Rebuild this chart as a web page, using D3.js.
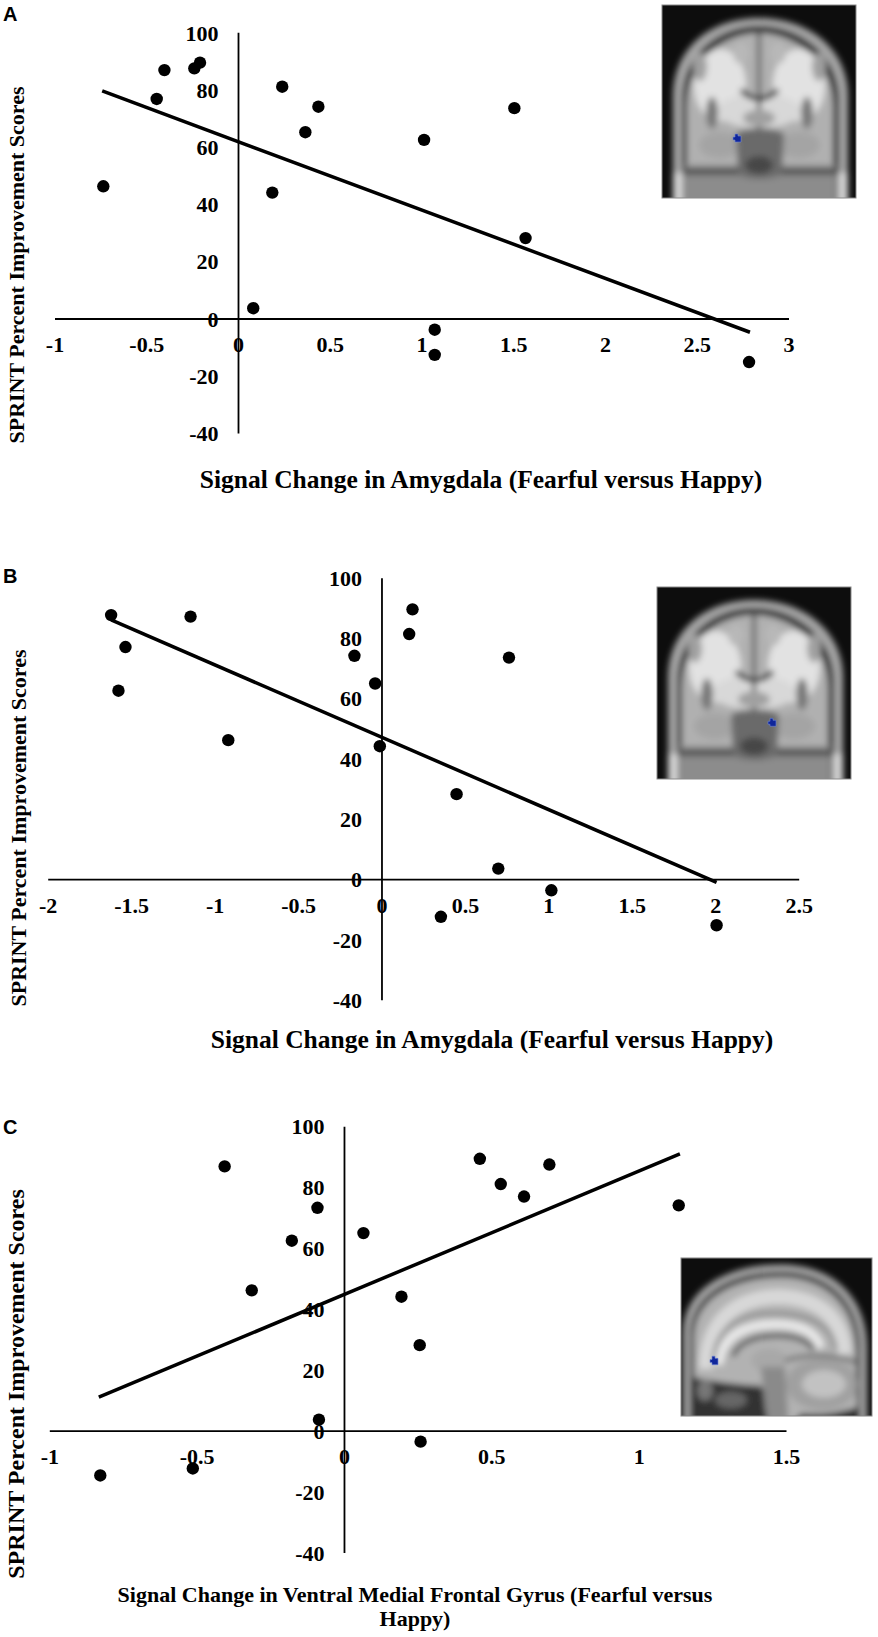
<!DOCTYPE html>
<html>
<head>
<meta charset="utf-8">
<script src="https://cdn.jsdelivr.net/npm/d3@7"></script>
<style>
  body { margin: 0; background: #fff; }
  svg text { font-family: "Liberation Serif", "Times New Roman", serif; font-weight: bold; fill: #000; }
  svg text.letter { font-family: "Liberation Sans", Arial, sans-serif; }
</style>
</head>
<body>
<div id="figure"></div>
<script>
// shared y values / ticks
var ticksY = [-40, -20, 0, 20, 40, 60, 80, 100];
var yTitle = "SPRINT Percent Improvement Scores";

// panel A : amygdala, left
var ticksAx = [-1, -0.5, 0, 0.5, 1, 1.5, 2, 2.5, 3];
var signalA = [-0.734, -0.443, -0.401, -0.238, -0.207, 0.241, 0.438, 0.367, 0.187, 0.083, 1.014, 1.506, 1.567, 1.072, 1.072, 2.785];
var sprintA = [46.2, 76.7, 86.8, 87.4, 89.4, 81.0, 74.0, 65.1, 44.0, 3.6, 62.4, 73.5, 28.1, -3.9, -12.7, -15.2];
var trendAx = [-0.74, 2.79];
var trendAy = [79.5, -4.8];
var titleA = ["Signal Change in Amygdala (Fearful versus Happy)"];

// panel B : amygdala, right
var ticksBx = [-2, -1.5, -1, -0.5, 0, 0.5, 1, 1.5, 2, 2.5];
var signalB = [-1.62, -1.534, -1.576, -1.144, -0.918, -0.162, -0.038, -0.01, 0.186, 0.166, 0.764, 0.45, 0.70, 1.018, 0.356, 2.008];
var sprintB = [87.6, 77.0, 62.5, 87.1, 46.1, 74.1, 64.9, 44.1, 89.5, 81.3, 73.5, 28.2, 3.5, -3.7, -12.5, -15.3];
var trendBx = [-1.62, 2.008];
var trendBy = [86.0, -1.1];
var titleB = ["Signal Change in Amygdala (Fearful versus Happy)"];

// panel C : ventral medial frontal gyrus
var ticksCx = [-1, -0.5, 0, 0.5, 1, 1.5];
var signalC = [-0.405, -0.090, -0.177, -0.313, 0.066, 0.195, 0.257, -0.085, 0.260, -0.827, -0.513, 0.461, 0.532, 0.611, 0.697, 1.136];
var sprintC = [86.8, 73.2, 62.4, 46.1, 64.9, 44.0, 28.1, 3.6, -3.6, -14.7, -12.4, 89.3, 81.0, 76.9, 87.4, 74.0];
var trendCx = [-0.832, 1.14];
var trendCy = [11.0, 90.9];
var titleC = ["Signal Change in Ventral Medial Frontal Gyrus (Fearful versus", "Happy)"];

var svg = d3.select("#figure")
            .append("svg")
            .attr("width", 878)
            .attr("height", 1637)
            .style("background", "#fff");

var defs = svg.append("defs");
defs.append("filter")
    .attr("id", "soft")
    .attr("x", "-10%").attr("y", "-10%")
    .attr("width", "120%").attr("height", "120%")
    .append("feGaussianBlur")
    .attr("stdDeviation", 3);

function fmt(d) { return String(d); }

function drawPanel(p) {
    var g = svg.append("g");

    var x = d3.scaleLinear().domain(d3.extent(p.xTicks)).range(p.xRange);
    var y = d3.scaleLinear().domain(d3.extent(ticksY)).range(p.yRange);

    // horizontal axis crosses at y = 0
    var xAxis = g.append("g")
        .attr("transform", "translate(0," + y(0) + ")")
        .call(d3.axisBottom(x).tickValues(p.xTicks).tickSize(0).tickFormat(fmt))
        .attr("font-size", null)
        .attr("font-family", null);
    xAxis.select(".domain").attr("stroke", "#000").attr("stroke-width", 1.8);
    xAxis.selectAll("text")
        .attr("y", p.xLabelOffset)
        .attr("dy", "0.35em")
        .style("font-size", "22px");

    // vertical axis crosses at x = 0
    var yAxis = g.append("g")
        .attr("transform", "translate(" + x(0) + ",0)")
        .call(d3.axisLeft(y).tickValues(ticksY).tickSize(0).tickFormat(fmt))
        .attr("font-size", null)
        .attr("font-family", null);
    yAxis.select(".domain").attr("stroke", "#000").attr("stroke-width", 1.8);
    yAxis.selectAll("text")
        .attr("x", -19.5)
        .attr("dy", "0.35em")
        .style("font-size", "22px");

    // fitted line
    g.append("path")
        .datum(d3.zip(p.trendX, p.trendY))
        .attr("d", d3.line().x(function(d) { return x(d[0]); }).y(function(d) { return y(d[1]); }))
        .attr("stroke", "#000")
        .attr("stroke-width", 3.5)
        .attr("fill", "none");

    g.selectAll("circle")
        .data(d3.zip(p.xs, p.ys))
        .join("circle")
        .attr("cx", function(d) { return x(d[0]); })
        .attr("cy", function(d) { return y(d[1]); })
        .attr("r", 6.2)
        .attr("fill", "#000");

    // axis titles
    g.append("text")
        .attr("transform", "translate(" + p.yTitle[0] + "," + p.yTitle[1] + ") rotate(-90)")
        .attr("text-anchor", "middle")
        .style("font-size", p.yTitle[2] + "px")
        .text(yTitle);

    g.selectAll(".xtitle")
        .data(p.title)
        .join("text")
        .attr("class", "xtitle")
        .attr("x", p.xTitle[0])
        .attr("y", function(d, i) { return p.xTitle[1] + i * p.xTitle[3]; })
        .attr("text-anchor", "middle")
        .style("font-size", p.xTitle[2] + "px")
        .text(function(d) { return d; });

    g.append("text")
        .attr("class", "letter")
        .attr("x", p.letter[1])
        .attr("y", p.letter[2])
        .style("font-size", "20px")
        .text(p.letter[0]);
}

function blueSpot(g, pos) {
    g.append("path")
        .attr("transform", "translate(" + pos[0] + "," + pos[1] + ")")
        .attr("d", "M-4,-1 L-2,-1 L-2,-4 L1,-4 L1,-2 L4,-2 L4,4 L-2,4 L-2,2 L-4,2 Z")
        .attr("fill", "#10269a")
        .attr("stroke", "#6f86d8")
        .attr("stroke-width", 0.6);
}

function frame(box, w, h, id) {
    var g = svg.append("g")
        .attr("transform", "translate(" + box[0] + "," + box[1] + ") scale(" + box[2] / w + "," + box[3] / h + ")");
    defs.append("clipPath").attr("id", id)
        .append("rect").attr("width", w).attr("height", h);
    var c = g.append("g").attr("clip-path", "url(#" + id + ")");
    c.append("rect").attr("width", w).attr("height", h).attr("fill", "#0d0d0d");
    var a = c.append("g").attr("filter", "url(#soft)");
    return { g: g, a: a, w: w, h: h };
}

function shape(a, tag, attrs) {
    var el = a.append(tag);
    for (var k in attrs) el.attr(k, attrs[k]);
    return el;
}

// coronal slice (panels A and B)
function drawCoronal(box, spot, id) {
    var f = frame(box, 194, 193, id), a = f.a;
    shape(a, "path", { d: "M11,210 V92 C11,40 52,13 97,13 C142,13 186,40 186,92 V210 Z", fill: "#a6a6a6" });
    shape(a, "path", { d: "M20,210 V96 C20,48 58,21 97,21 C136,21 177,48 177,96 V210 Z", fill: "#2c2c2c" });
    shape(a, "path", { d: "M25,175 V100 C25,55 62,28 97,28 C132,28 171,55 171,100 V175 Z", fill: "#b0b0b0" });
    shape(a, "rect", { x: 22, y: 160, width: 152, height: 50, fill: "#8c8c8c" });
    shape(a, "rect", { x: 22, y: 163, width: 152, height: 7, fill: "#555" });
    shape(a, "rect", { x: 11, y: 168, width: 10, height: 40, fill: "#d4d4d4" });
    shape(a, "rect", { x: 176, y: 168, width: 10, height: 40, fill: "#d4d4d4" });
    shape(a, "ellipse", { cx: 58, cy: 80, rx: 26, ry: 36, fill: "#e2e2e2" });
    shape(a, "ellipse", { cx: 137, cy: 80, rx: 26, ry: 36, fill: "#e2e2e2" });
    shape(a, "ellipse", { cx: 97, cy: 106, rx: 42, ry: 17, fill: "#d8d8d8" });
    shape(a, "ellipse", { cx: 38, cy: 62, rx: 7, ry: 14, fill: "#a0a0a0" });
    shape(a, "ellipse", { cx: 157, cy: 62, rx: 7, ry: 14, fill: "#a0a0a0" });
    shape(a, "ellipse", { cx: 79, cy: 48, rx: 8, ry: 11, fill: "#b8b8b8" });
    shape(a, "ellipse", { cx: 116, cy: 48, rx: 8, ry: 11, fill: "#b8b8b8" });
    shape(a, "rect", { x: 95, y: 28, width: 4, height: 98, fill: "#5a5a5a" });
    shape(a, "path", { d: "M79,85 Q97,102 116,85", stroke: "#333", "stroke-width": 5, fill: "none" });
    shape(a, "ellipse", { cx: 50, cy: 108, rx: 6, ry: 16, fill: "#777" });
    shape(a, "ellipse", { cx: 145, cy: 108, rx: 6, ry: 16, fill: "#777" });
    shape(a, "ellipse", { cx: 58, cy: 140, rx: 21, ry: 13, fill: "#a4a4a4" });
    shape(a, "ellipse", { cx: 137, cy: 140, rx: 21, ry: 13, fill: "#a4a4a4" });
    shape(a, "ellipse", { cx: 97, cy: 113, rx: 16, ry: 8, fill: "#a0a0a0" });
    shape(a, "path", { d: "M74,128 Q97,118 122,128 L120,170 Q97,178 76,170 Z", fill: "#6a6a6a" });
    shape(a, "ellipse", { cx: 97, cy: 160, rx: 14, ry: 9, fill: "#464646" });
    blueSpot(f.g, spot);
    f.g.append("rect").attr("width", f.w).attr("height", f.h)
        .attr("fill", "none").attr("stroke", "#8a8a8a").attr("stroke-width", 1);
}

// sagittal slice (panel C)
function drawSagittal(box, spot, id) {
    var f = frame(box, 191, 148, id), a = f.a;
    shape(a, "path", { d: "M2,160 V70 C2,30 45,6 100,6 C150,6 186,35 186,85 V160 Z", fill: "#a4a4a4" });
    shape(a, "path", { d: "M9,160 V72 C9,36 48,13 100,13 C146,13 179,40 179,86 V160 Z", fill: "#2c2c2c" });
    shape(a, "path", { d: "M13,112 V74 C13,40 50,18 100,18 C143,18 175,43 175,88 L176,140 Q150,148 120,146 L105,160 L80,120 Q40,118 13,112 Z", fill: "#b2b2b2" });
    shape(a, "path", { d: "M25,104 C25,55 60,36 100,36 C140,38 162,58 164,90", stroke: "#d8d8d8", "stroke-width": 14, fill: "none" });
    shape(a, "path", { d: "M32,98 C34,62 62,50 100,52 C135,54 152,66 155,86", stroke: "#777", "stroke-width": 2.5, fill: "none" });
    shape(a, "path", { d: "M38,100 C40,72 65,62 95,62 C120,62 135,70 140,84", stroke: "#eaeaea", "stroke-width": 8, fill: "none" });
    shape(a, "path", { d: "M52,92 C58,77 80,72 100,73 C118,74 128,78 132,86", stroke: "#4a4a4a", "stroke-width": 4, fill: "none" });
    shape(a, "ellipse", { cx: 88, cy: 96, rx: 18, ry: 11, fill: "#a8a8a8" });
    shape(a, "path", { d: "M80,102 L104,102 L108,160 L86,160 Z", fill: "#8a8a8a" });
    shape(a, "ellipse", { cx: 141, cy: 118, rx: 36, ry: 24, fill: "#a0a0a0" });
    shape(a, "ellipse", { cx: 143, cy: 118, rx: 22, ry: 13, fill: "#c2c2c2" });
    shape(a, "path", { d: "M104,96 Q140,86 176,98", stroke: "#5c5c5c", "stroke-width": 3, fill: "none" });
    shape(a, "path", { d: "M10,112 Q45,118 80,121 L88,160 L10,160 Z", fill: "#333" });
    shape(a, "ellipse", { cx: 50, cy: 133, rx: 16, ry: 8, fill: "#666" });
    shape(a, "ellipse", { cx: 24, cy: 124, rx: 8, ry: 10, fill: "#777" });
    blueSpot(f.g, spot);
    f.g.append("rect").attr("width", f.w).attr("height", f.h)
        .attr("fill", "none").attr("stroke", "#8a8a8a").attr("stroke-width", 1);
}

drawPanel({
    xTicks: ticksAx, xs: signalA, ys: sprintA, trendX: trendAx, trendY: trendAy, title: titleA,
    xRange: [54.5, 788.5], yRange: [433, 32.3], xLabelOffset: 26,
    xTitle: [481, 488, 25.5, 0], yTitle: [24, 265, 22], letter: ["A", 3, 21]
});
drawCoronal([662, 5, 194, 193], [75, 133], "clipA");

drawPanel({
    xTicks: ticksBx, xs: signalB, ys: sprintB, trendX: trendBx, trendY: trendBy, title: titleB,
    xRange: [47.7, 798.7], yRange: [999.7, 577.7], xLabelOffset: 26.5,
    xTitle: [492, 1048, 25.5, 0], yTitle: [26, 828, 22], letter: ["B", 3, 583]
});
drawCoronal([657, 587, 194, 192], [115, 136], "clipB");

drawPanel({
    xTicks: ticksCx, xs: signalC, ys: sprintC, trendX: trendCx, trendY: trendCy, title: titleC,
    xRange: [49.3, 786], yRange: [1552.5, 1126.2], xLabelOffset: 26,
    xTitle: [415, 1601.5, 22, 24.5], yTitle: [24, 1384, 24], letter: ["C", 3, 1134]
});
drawSagittal([681, 1258, 191, 158], [33, 96], "clipC");
</script>
</body>
</html>
